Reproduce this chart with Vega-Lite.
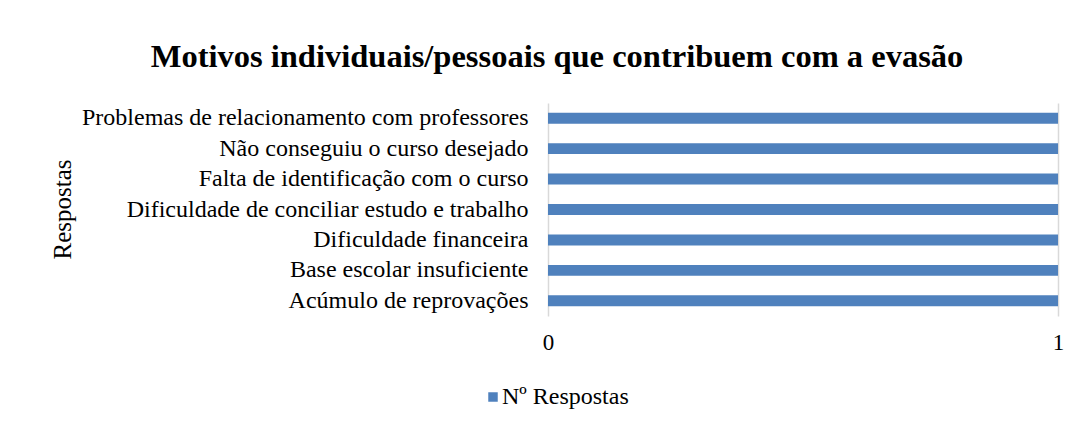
{
  "$schema": "https://vega.github.io/schema/vega-lite/v6.json",
  "autosize": {"type": "none"},
  "width": 510,
  "height": 213,
  "padding": {"left": 548, "top": 103, "right": 28, "bottom": 108},
  "background": "white",
  "title": {
    "text": "Motivos individuais/pessoais que contribuem com a evasão",
    "font": "Liberation Serif",
    "fontSize": 32.5,
    "fontWeight": "bold",
    "color": "#000000",
    "anchor": "middle",
    "dx": -246,
    "offset": 30
  },
  "data": {
    "values": [
      {"motivo": "Problemas de relacionamento com professores", "valor": 1, "serie": "Nº Respostas"},
      {"motivo": "Não conseguiu o curso desejado", "valor": 1, "serie": "Nº Respostas"},
      {"motivo": "Falta de identificação com o curso", "valor": 1, "serie": "Nº Respostas"},
      {"motivo": "Dificuldade de conciliar estudo e trabalho", "valor": 1, "serie": "Nº Respostas"},
      {"motivo": "Dificuldade financeira", "valor": 1, "serie": "Nº Respostas"},
      {"motivo": "Base escolar insuficiente", "valor": 1, "serie": "Nº Respostas"},
      {"motivo": "Acúmulo de reprovações", "valor": 1, "serie": "Nº Respostas"}
    ]
  },
  "mark": {"type": "bar"},
  "encoding": {
    "y": {
      "field": "motivo",
      "type": "nominal",
      "sort": null,
      "scale": {"paddingInner": 0.64, "paddingOuter": 0.32},
      "axis": {
        "title": "Respostas",
        "titleFont": "Liberation Serif",
        "titleFontSize": 25,
        "titleFontWeight": "normal",
        "titleColor": "#000000",
        "titleX": -486,
        "titleY": 106,
        "titleAngle": -90,
        "titleAlign": "center",
        "titleBaseline": "middle",
        "labelFont": "Liberation Serif",
        "labelFontSize": 24,
        "labelColor": "#000000",
        "labelPadding": 20,
        "labelLimit": 600,
        "domain": false,
        "ticks": false,
        "grid": false
      }
    },
    "x": {
      "field": "valor",
      "type": "quantitative",
      "scale": {"domain": [0, 1], "nice": false},
      "axis": {
        "title": null,
        "values": [0, 1],
        "format": "d",
        "labelFont": "Liberation Serif",
        "labelFontSize": 23,
        "labelColor": "#000000",
        "labelPadding": 15,
        "labelFlush": false,
        "domain": false,
        "ticks": false,
        "grid": true,
        "gridColor": "#D9D9D9",
        "gridWidth": 1.5
      }
    },
    "color": {
      "field": "serie",
      "type": "nominal",
      "scale": {"range": ["#4F81BD"]},
      "legend": {
        "title": null,
        "orient": "none",
        "legendX": -67,
        "legendY": 282,
        "symbolType": "square",
        "symbolSize": 90,
        "symbolStrokeWidth": 0,
        "labelFont": "Liberation Serif",
        "labelFontSize": 24,
        "labelColor": "#000000",
        "labelOffset": -3
      }
    }
  },
  "config": {"view": {"stroke": null}}
}
